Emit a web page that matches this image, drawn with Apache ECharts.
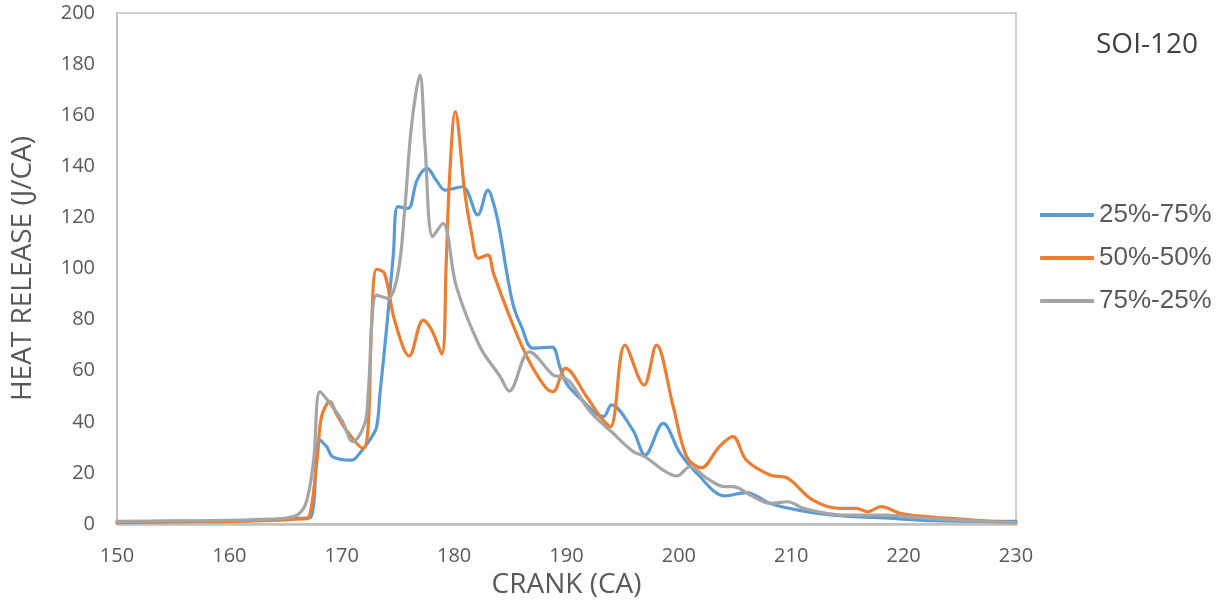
<!DOCTYPE html>
<html><head><meta charset="utf-8">
<script src="https://cdn.jsdelivr.net/npm/echarts@6/dist/echarts.min.js"></script>
<style>html,body{margin:0;padding:0;background:#fff}#c{width:1225px;height:609px}</style>
</head><body><div id="c"></div>
<script>
const seriesNames = ['25%-75%', '50%-50%', '75%-25%'];
const xTicks = [150, 160, 170, 180, 190, 200, 210, 220, 230];
const yTicks = [0, 20, 40, 60, 80, 100, 120, 140, 160, 180, 200];

const blueX = [150,155,160,163,165,166,167.2,168.0,168.65,169.2,170.9,171.6,172.5,173.1,173.4,174.0,174.6,175.0,175.9,176.7,177.6,178.4,179.2,180.75,182.1,183.0,183.6,184.1,184.7,185.3,186.0,187.0,188.7,189.4,190.0,191.2,193.3,194.0,195.9,197.0,198.6,200.1,201.6,204.1,206.0,208.1,210.5,213.7,219.1,222.6,230];
const blueY = [0.8,1.0,1.2,1.5,2.0,2.2,2.5,33,30.3,26.3,25,27.7,32.9,38,51,77,106,124.2,123.5,134.6,139.2,134.6,130.7,132,121,130.7,124,113.8,98,85,77.2,68.8,69.2,61.6,55,49.2,42,46.6,36.8,27,39.4,27.7,19.8,11,12.3,8.1,5.5,3.5,2.2,1.3,1.0];

const orangeX = [150,155,160,163,165,166.5,167.0,167.8,168.2,168.95,169.5,170.4,171.9,172.35,172.65,173.1,173.8,174.7,176.0,177.25,178.0,178.9,179.3,179.6,180.1,180.96,181.55,182.15,183.0,183.5,185.3,186.7,188.2,188.8,189.9,191.8,193.0,193.9,195.2,196.9,198.0,199.5,200.7,202.0,203.6,204.8,206.0,208.1,209.7,211.9,214.3,215.8,216.8,218.0,219.7,222.0,224.4,230];
const orangeY = [0.5,0.8,1.0,1.3,1.6,2.0,2.2,25,42,47.9,43.3,36.8,29.6,38,77,99.7,98.1,79.8,65.8,79.8,75.9,66.5,103,136,161.4,129.4,113.8,104,105.3,98.1,77.2,63.5,53.1,51.8,60.9,49.8,42,38.1,70,54.4,70,45.9,26.3,22,30.3,34.2,25,19.2,17.9,9.4,6.1,6.1,4.8,6.8,4.2,2.9,2.1,0.4];

const grayX = [150,155,160,163,165,166.2,166.9,167.5,168.06,168.95,170.0,171.0,172.06,172.35,173.1,174.1,175.0,175.6,176.2,176.96,177.4,178.1,179.0,180.2,182.3,184.1,184.9,186.7,188.8,189.4,190.3,192.1,194.15,195.9,197.0,198.6,199.8,201.0,202.5,204.1,204.8,206.5,208.1,209.7,211.1,214.6,218.5,222.0,230];
const grayY = [1.0,1.2,1.4,1.8,2.3,4,9.4,25,51.8,47.2,40.7,32.2,39.4,51.2,89.6,88.3,98.1,122.9,155.5,175.7,149,112.5,117.7,92.9,69.4,57.7,52,67.4,58.3,57.7,55.7,44,35.5,28.5,26.3,21.1,18.8,22.4,17.9,14.6,14.6,11,8.1,8.7,6.1,3.5,3.5,2.2,0.5];

const colors = ['#5B9BD5', '#ED7D31', '#A5A5A5'];
const pairs = (xs, ys) => xs.map((x, i) => [x, ys[i]]);
const allData = [pairs(blueX, blueY), pairs(orangeX, orangeY), pairs(grayX, grayY)];

const chart = echarts.init(document.getElementById('c'), null, {renderer: 'canvas'});
const labelFont = '"Open Sans", "Liberation Sans", sans-serif';
chart.setOption({
  animation: false,
  color: colors,
  title: {
    text: 'SOI-120', left: 1091, top: 26,
    textStyle: {fontFamily: labelFont, fontSize: 28, fontWeight: 'normal', color: '#404040'}
  },
  legend: {
    orient: 'vertical', left: 1035, top: 197,
    itemWidth: 54, itemHeight: 4, itemGap: 17,
    icon: 'roundRect',
    data: seriesNames,
    textStyle: {fontFamily: '"Liberation Sans", Arial, sans-serif', fontSize: 26, color: '#595959', padding: [0,0,0,0]}
  },
  grid: {left: 117, right: 209, top: 13, bottom: 85, show: true, borderColor: '#BFBFBF', borderWidth: 1.5},
  xAxis: {
    type: 'value', min: 150, max: 230, interval: 10,
    name: 'CRANK (CA)', nameLocation: 'middle', nameGap: 47,
    nameTextStyle: {fontFamily: labelFont, fontSize: 28, color: '#595959'},
    axisLine: {show: true, lineStyle: {color: '#BFBFBF', width: 2.5}},
    axisTick: {show: false},
    splitLine: {show: false},
    axisLabel: {fontFamily: labelFont, fontSize: 20, color: '#595959', margin: 22,
      formatter: v => xTicks.includes(v) ? String(v) : ''}
  },
  yAxis: {
    type: 'value', min: 0, max: 200, interval: 20,
    name: 'HEAT RELEASE (J/CA)', nameLocation: 'middle', nameGap: 80,
    nameTextStyle: {fontFamily: labelFont, fontSize: 28, color: '#595959'},
    axisLine: {show: true, lineStyle: {color: '#BFBFBF', width: 1.5}},
    axisTick: {show: false},
    splitLine: {show: false},
    axisLabel: {fontFamily: labelFont, fontSize: 20, color: '#595959', margin: 22,
      formatter: v => yTicks.includes(v) ? String(v) : ''}
  },
  series: seriesNames.map((n, i) => ({
    name: n, type: 'line', data: allData[i], smooth: 0.35, showSymbol: false, symbol: 'none',
    lineStyle: {width: 3.2, color: colors[i], cap: 'round', join: 'round'},
    itemStyle: {color: colors[i]},
    z: i === 0 ? 1 : 2
  }))
});
</script></body></html>
